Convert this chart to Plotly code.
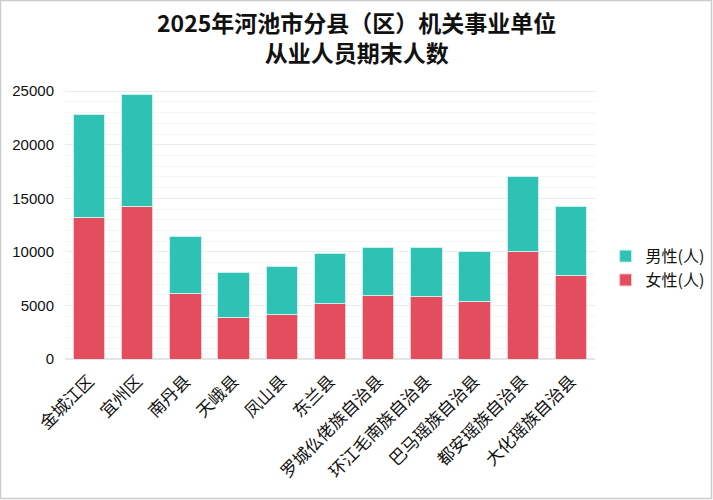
import plotly.graph_objects as go

# 各县（区）
counties = ["金城江区", "宜州区", "南丹县", "天峨县", "凤山县", "东兰县",
            "罗城仫佬族自治县", "环江毛南族自治县", "巴马瑶族自治县",
            "都安瑶族自治县", "大化瑶族自治县"]

# 女性 / 合计 (人)
female = [13240, 14200, 6080, 3890, 4170, 5190, 5900, 5800, 5370, 10060, 7840]
total = [22870, 24660, 11480, 8090, 8670, 9810, 10370, 10430, 10000, 17070, 14230]
male = [t - f for t, f in zip(total, female)]

y_ticks = [0, 5000, 10000, 15000, 20000, 25000]
title_text = "2025年河池市分县（区）机关事业单位<br>从业人员期末人数"

W, H = 713, 500
ML, MR, MT, MB = 65, 118, 88, 141
pw, ph = W - ML - MR, H - MT - MB

fig = go.Figure()
fig.add_trace(go.Bar(x=counties, y=female, name="女性(人)",
                     marker=dict(color="#E44D5E", line=dict(color="#F6C9CF", width=1))))
fig.add_trace(go.Bar(x=counties, y=male, name="男性(人)",
                     marker=dict(color="#2FC1B4", line=dict(color="#C9F0EC", width=1))))

fig.update_layout(
    width=W, height=H,
    barmode="stack", bargap=0.35,
    paper_bgcolor="white", plot_bgcolor="white",
    margin=dict(l=ML, r=MR, t=MT, b=MB, autoexpand=False),
    font=dict(family="Liberation Sans, Noto Sans CJK SC", size=14, color="#222"),
    legend=dict(x=1.02, y=0.335, xanchor="left", yanchor="middle",
                traceorder="reversed",
                font=dict(family="Noto Sans CJK SC", size=16, color="#111")),
    showlegend=True,
)

# 标题（两行）
fig.add_annotation(text="<b>%s</b>" % title_text, xref="paper", yref="paper",
                   x=(356 - ML) / pw, y=1 + (MT - 37) / ph,
                   xanchor="center", yanchor="middle", showarrow=False,
                   font=dict(family="Noto Sans CJK SC", size=23, color="#111"))

fig.update_xaxes(tickangle=-45, showgrid=False, showline=False, ticks="", automargin=False,
                 ticklabelstandoff=8,
                 tickfont=dict(family="Noto Sans CJK SC", size=17, color="#111"))
fig.update_yaxes(range=[0, 25300], tickvals=y_ticks, tickformat="d", automargin=False,
                 ticklabelstandoff=10,
                 showgrid=True, gridcolor="#EBEBEB", gridwidth=1,
                 zeroline=True, zerolinecolor="#E6E6E6",
                 minor=dict(dtick=1000, showgrid=True, gridcolor="#F5F5F5", gridwidth=1),
                 tickfont=dict(size=15, color="#111"))

# 外框
fig.add_shape(type="rect", xref="paper", yref="paper",
              x0=-(ML - 0.5) / pw, x1=1 + (MR - 1.5) / pw,
              y0=-(MB - 1.5) / ph, y1=1 + (MT - 0.5) / ph,
              line=dict(color="#CCCCCC", width=1.5), layer="below")

fig.write_html("out.html", config={"displayModeBar": False},
               post_script="document.body.style.margin='0';document.body.style.overflow='hidden';")
